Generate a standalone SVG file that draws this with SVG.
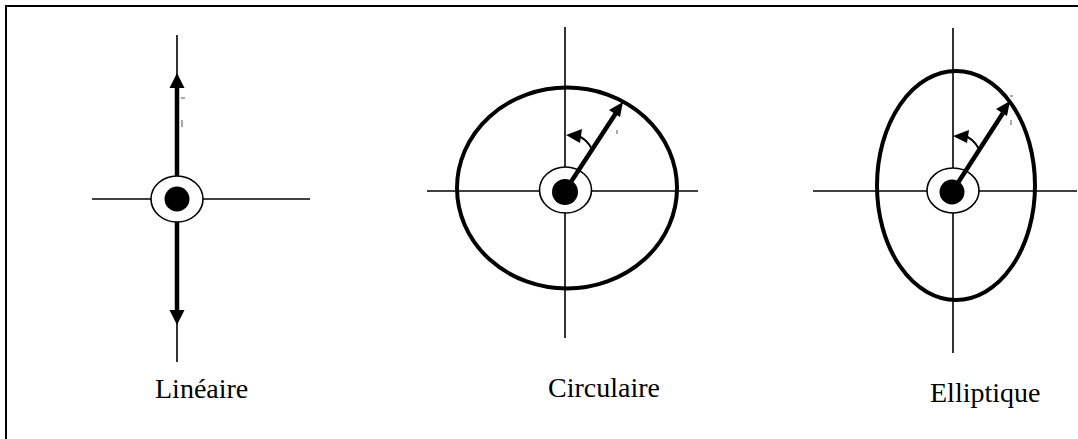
<svg xmlns="http://www.w3.org/2000/svg" width="1078" height="439" viewBox="0 0 1078 439">
<style>
.axis{stroke:#000;stroke-width:1.6;fill:none}
.ring{stroke:#000;stroke-width:1.6;fill:#fff}
.dot{fill:#000}
.big{stroke:#000;stroke-width:4;fill:none}
.thick{stroke:#000;stroke-width:4.5;fill:none}
.arc{stroke:#000;stroke-width:2;fill:none}
.head{fill:#000}
.mark{stroke:#555;stroke-width:1}
.lbl{font-family:"Liberation Serif","Times New Roman",serif;font-size:28px;fill:#000}
</style>
<rect width="1078" height="439" fill="#fff"/>
<g id="frame">
<path d="M6,439 V6 H1078" stroke="#000" stroke-width="2" fill="none"/>
</g>
<g id="lineaire">
<line class="axis" x1="177" y1="35" x2="177" y2="362"/>
<line class="axis" x1="92" y1="199" x2="310" y2="199"/>
<line class="thick" x1="177" y1="176" x2="177" y2="85"/>
<line class="thick" x1="177" y1="222" x2="177" y2="312"/>
<polygon class="head" points="177,73 169.5,88 184.5,88"/>
<polygon class="head" points="177,325 169.5,310 184.5,310"/>
<ellipse class="ring" cx="177" cy="199" rx="26" ry="23"/>
<circle class="dot" cx="177" cy="199" r="12.5"/>
<line class="mark" x1="181" y1="98" x2="185" y2="98"/>
<line class="mark" x1="182" y1="120" x2="182" y2="127"/>
<text class="lbl" x="155" y="398">Linéaire</text>
</g>
<g id="circulaire">
<line class="axis" x1="565" y1="27" x2="565" y2="338"/>
<line class="axis" x1="427" y1="191" x2="698" y2="191"/>
<ellipse class="big" cx="567" cy="188" rx="110" ry="100.5"/>
<ellipse class="ring" cx="565.5" cy="190" rx="26" ry="23"/>
<circle class="dot" cx="565" cy="192" r="13"/>
<line class="thick" x1="565" y1="191" x2="616" y2="113"/>
<polygon class="head" points="623,102 609,110 620,117"/>
<path class="arc" d="M592,149 Q586,138 576,135"/>
<polygon class="head" points="566,135 582,129 580,143"/>
<line class="mark" x1="617" y1="130" x2="617" y2="134"/>
<text class="lbl" x="548" y="397">Circulaire</text>
</g>
<g id="elliptique">
<line class="axis" x1="953" y1="28" x2="953" y2="353"/>
<line class="axis" x1="813" y1="191" x2="1077" y2="191"/>
<ellipse class="big" cx="956" cy="185.5" rx="79" ry="114.5"/>
<ellipse class="ring" cx="953" cy="190.5" rx="26" ry="22.5"/>
<circle class="dot" cx="952" cy="192" r="12.5"/>
<line class="thick" x1="952" y1="192" x2="1003" y2="113"/>
<polygon class="head" points="1010,101 996,109 1007,116"/>
<path class="arc" d="M979,149 Q973,138 963,135"/>
<polygon class="head" points="953,136 969,130 967,143"/>
<line class="mark" x1="1010" y1="96" x2="1013" y2="96"/>
<line class="mark" x1="1011" y1="120" x2="1011" y2="125"/>
<text class="lbl" x="930" y="402">Elliptique</text>
</g>
</svg>
